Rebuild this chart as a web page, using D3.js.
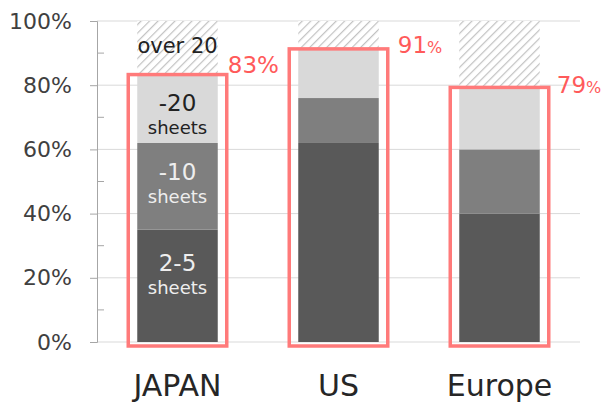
<!DOCTYPE html>
<html>
<head>
<meta charset="utf-8">
<script src="https://cdn.jsdelivr.net/npm/d3@7"></script>
<style>
  html, body { margin: 0; padding: 0; background: #fff; }
  svg { display: block; font-family: "DejaVu Sans", Verdana, sans-serif; }
</style>
</head>
<body>
<svg id="chart" width="603" height="403"></svg>
<script>
// Share of documents by page count, per region (percent)
const categories = ["JAPAN", "US", "Europe"];
const sheets2to5 = [35, 62, 40];
const sheetsTo10 = [27, 14, 20];
const sheetsTo20 = [21, 15, 19];
const over20 = [17, 9, 21];
const upTo20Total = [83, 91, 79];
const yTicks = [0, 20, 40, 60, 80, 100];

const svg = d3.select("#chart");
const margin = { left: 97, right: 23, top: 21, bottom: 61 };
const W = 603, H = 403;

const x = d3.scaleBand().domain(categories)
  .range([margin.left, W - margin.right]).paddingInner(0.5).paddingOuter(0.25);
const y = d3.scaleLinear().domain([0, 100]).range([H - margin.bottom, margin.top]);

// hatch pattern for the "over 20" remainder
const defs = svg.append("defs");
const pat = defs.append("pattern").attr("id", "hatch")
  .attr("patternUnits", "userSpaceOnUse").attr("width", 6).attr("height", 6)
  .attr("patternTransform", "rotate(45)");
pat.append("rect").attr("width", 6).attr("height", 6).attr("fill", "#fff");
pat.append("line").attr("x1", 0).attr("y1", 0).attr("x2", 0).attr("y2", 6)
  .attr("stroke", "#c2c2c2").attr("stroke-width", 2.4);

// gridlines
svg.append("g").selectAll("line").data(yTicks).join("line")
  .attr("x1", margin.left).attr("x2", W - margin.right)
  .attr("y1", d => y(d)).attr("y2", d => y(d))
  .attr("stroke", "#d9d9d9").attr("stroke-width", 1);

// y axis: major ticks outside, minor ticks inside
const yAxis = svg.append("g").attr("transform", `translate(${margin.left},0)`)
  .call(d3.axisLeft(y).tickValues(yTicks).tickSize(7).tickPadding(18).tickFormat(d => d + "%"));
yAxis.select(".domain").attr("stroke", "#a6a6a6");
yAxis.selectAll(".tick line").attr("stroke", "#a6a6a6");
yAxis.selectAll(".tick text").attr("fill", "#404040").style("font-size", "22px")
  .style("font-family", "'DejaVu Sans', Verdana, sans-serif");
svg.append("g").selectAll("line").data([10, 30, 50, 70, 90]).join("line")
  .attr("x1", margin.left).attr("x2", margin.left + 7)
  .attr("y1", d => y(d)).attr("y2", d => y(d))
  .attr("stroke", "#a6a6a6");

// stacked bars
const stackData = categories.map((c, i) => ({
  cat: c, a: sheets2to5[i], b: sheetsTo10[i], c: sheetsTo20[i], d: over20[i]
}));
const keys = ["a", "b", "c", "d"];
const fills = { a: "#595959", b: "#7f7f7f", c: "#d9d9d9", d: "url(#hatch)" };
const series = d3.stack().keys(keys)(stackData);
svg.append("g").selectAll("g").data(series).join("g")
  .attr("fill", s => fills[s.key])
  .selectAll("rect").data(s => s).join("rect")
  .attr("x", d => x(d.data.cat)).attr("width", x.bandwidth())
  .attr("y", d => y(d[1])).attr("height", d => y(d[0]) - y(d[1]));

// segment labels for the first column
const bx = x(categories[0]) + x.bandwidth() / 2;
const lab = svg.append("g").attr("text-anchor", "middle");
const s0 = series.map(s => s[0]);
function twoLine(seg, top, sub, color, dy1) {
  const cy = (y(seg[0]) + y(seg[1])) / 2;
  lab.append("text").attr("x", bx).attr("y", cy + dy1).attr("fill", color)
    .style("font-size", "23px").text(top);
  lab.append("text").attr("x", bx).attr("y", cy + dy1 + 23).attr("fill", color)
    .style("font-size", "18px").text(sub);
}
lab.append("text").attr("x", bx).attr("y", (y(s0[3][0]) + y(s0[3][1])) / 2 + 5)
  .attr("fill", "#222").style("font-size", "21px").text("over " + 20);
twoLine(s0[2], "-20", "sheets", "#222", 2);
twoLine(s0[1], "-10", "sheets", "#eeeeee", -6);
twoLine(s0[0], "2-5", "sheets", "#eeeeee", -15);

// highlight boxes around the share up to 20 sheets
svg.append("g").selectAll("rect").data(categories).join("rect")
  .attr("x", c => x(c) - 9).attr("width", x.bandwidth() + 18)
  .attr("y", (c, i) => y(upTo20Total[i]) - 1)
  .attr("height", (c, i) => y(0) - y(upTo20Total[i]) + 5)
  .attr("fill", "none").attr("stroke", "#ff7a7a").attr("stroke-width", 3.5);

// value labels
const offs = [[1, -3], [10, 3], [8, 5]];
const small = [false, true, true];
const vl = svg.append("g");
categories.forEach((c, i) => {
  const t = vl.append("text")
    .attr("x", x(c) + x.bandwidth() + 9 + offs[i][0])
    .attr("y", y(upTo20Total[i]) + offs[i][1])
    .attr("fill", "#ff5a5a").style("font-size", "23px");
  t.append("tspan").text(upTo20Total[i]);
  t.append("tspan").style("font-size", small[i] ? "16px" : "23px").text("%");
});

// category labels
svg.append("g").attr("text-anchor", "middle").selectAll("text").data(categories).join("text")
  .attr("x", c => x(c) + x.bandwidth() / 2).attr("y", 396)
  .attr("fill", "#262626").style("font-size", "30px").text(c => c);
</script>
</body>
</html>
